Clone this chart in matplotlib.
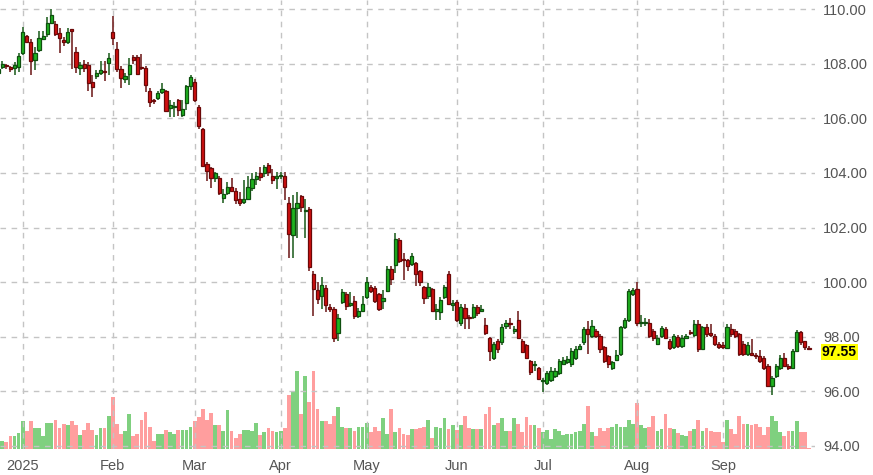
import matplotlib
matplotlib.use("Agg")
import matplotlib.pyplot as plt
import numpy as np
import pandas as pd

# ---------------- data ----------------
opens = [107.65,107.88,107.95,107.88,107.83,107.87,108.39,109.00,108.80,108.13,
         108.50,108.90,109.08,109.50,109.45,109.12,108.86,108.80,109.25,108.42,
         107.83,108.00,107.94,107.32,107.55,107.66,107.72,108.02,109.15,108.53,
         107.80,107.43,107.61,108.24,108.24,107.88,107.83,107.00,106.68,106.73,
         106.95,107.00,106.37,106.43,106.66,106.12,106.55,107.17,107.32,106.40,
         105.60,104.31,104.17,103.83,103.83,103.07,103.28,103.47,103.32,103.06,
         102.92,103.06,103.43,103.76,103.98,103.98,104.28,103.87,103.80,103.88,
         103.90,102.88,101.74,102.73,103.14,102.60,102.66,100.30,99.70,99.50,
         99.80,99.10,99.03,98.15,99.26,99.57,99.18,99.32,98.77,98.93,
         99.45,99.81,99.79,99.57,99.30,99.69,100.48,100.61,101.55,100.83,
         100.81,100.67,100.69,100.40,99.81,99.50,99.75,98.96,98.89,99.47,
         100.28,99.18,99.26,98.52,99.05,98.72,98.71,99.10,98.96,98.44,
         97.97,97.22,97.85,97.79,98.40,98.50,98.22,98.61,97.83,97.70,
         97.12,96.98,96.85,96.38,96.32,96.41,96.57,96.69,97.00,97.06,
         97.00,97.24,97.55,97.79,98.28,98.04,98.22,98.04,97.61,97.30,
         96.87,97.14,97.37,98.34,98.61,99.57,99.75,98.50,98.50,98.52,
         98.22,97.75,98.04,98.28,97.85,97.61,98.00,97.67,97.97,98.18,
         98.07,98.47,97.55,98.37,98.12,98.04,97.75,97.71,97.59,98.28,
         98.22,98.10,97.75,97.37,97.40,97.32,97.30,97.22,96.94,96.20,
         96.57,96.87,97.22,96.94,96.87,97.49,98.16,97.83,97.60]
highs = [107.90,108.08,108.00,107.92,108.05,108.40,109.34,109.05,108.90,108.60,
         109.20,109.20,109.70,110.00,109.55,109.30,108.98,109.30,109.28,108.60,
         108.05,108.15,108.05,107.60,107.75,108.10,108.10,108.40,109.75,108.80,
         107.90,107.65,108.20,108.30,108.32,108.35,107.90,107.10,106.72,107.00,
         107.28,107.05,106.66,106.60,106.72,106.66,107.20,107.60,107.45,106.50,
         105.65,104.40,104.20,104.05,103.90,103.40,103.65,103.80,103.45,103.30,
         103.75,103.90,104.00,104.05,104.20,104.30,104.35,104.15,104.05,104.05,
         104.05,103.10,103.20,103.30,103.20,103.05,102.75,100.40,100.00,100.20,
         99.90,99.20,99.10,98.83,99.75,99.65,99.63,99.50,99.05,99.50,
         100.18,99.90,99.85,99.62,99.70,100.60,100.60,101.80,101.60,101.05,
         100.85,101.05,100.75,100.45,99.85,99.98,99.80,99.20,99.45,99.90,
         100.40,99.35,99.35,99.20,99.20,98.80,99.20,99.15,99.15,98.70,
         98.00,97.80,97.90,98.45,98.60,98.70,98.40,98.96,97.90,97.75,
         97.15,97.10,96.90,96.50,96.75,96.90,96.85,97.20,97.25,97.30,
         97.60,97.65,97.75,98.35,98.59,98.60,98.30,98.10,97.65,97.35,
         97.10,97.50,98.40,98.70,99.75,99.80,100.00,98.80,98.70,98.65,
         98.30,98.05,98.40,98.35,97.90,98.10,98.05,98.05,98.10,98.25,
         98.60,98.60,98.40,98.45,98.47,98.10,97.80,97.80,98.45,98.45,
         98.30,98.15,97.85,97.80,97.90,97.40,97.50,97.30,97.00,96.55,
         97.00,97.35,97.40,97.00,97.55,98.25,98.20,97.85,97.65]
lows = [107.55,107.80,107.80,107.68,107.58,107.70,108.30,108.75,107.60,107.75,
        108.42,108.85,108.98,109.45,109.00,108.40,108.65,108.72,107.80,107.65,
        107.60,107.70,107.00,106.78,107.45,107.60,107.35,107.60,108.70,107.70,
        107.10,107.30,107.20,108.00,107.58,107.75,106.95,106.43,106.52,106.68,
        106.90,106.22,106.05,106.05,106.10,106.05,106.30,107.05,106.60,105.60,
        104.20,103.72,103.45,103.68,103.20,102.88,103.20,103.30,102.85,102.80,
        102.85,103.00,103.35,103.55,103.70,103.85,103.90,103.60,103.40,103.78,
        103.00,100.90,100.90,101.60,102.55,101.60,100.40,98.77,99.20,99.00,
        98.90,98.90,97.80,97.85,99.20,98.98,99.10,98.65,98.70,98.90,
        99.38,99.60,99.25,98.95,99.00,99.65,99.90,100.35,100.70,100.06,
        100.42,100.60,99.87,99.87,99.20,99.40,98.90,98.60,98.60,99.40,
        99.15,98.95,98.55,98.40,98.28,98.30,98.65,98.75,98.90,98.05,
        97.12,97.15,97.40,97.70,98.30,98.30,98.10,97.90,97.40,97.20,
        96.60,96.75,96.40,95.98,96.25,96.35,96.50,96.60,96.95,97.00,
        96.90,97.15,97.50,97.70,97.37,97.95,97.95,97.40,97.05,96.85,
        96.80,97.10,97.30,98.30,98.55,99.50,98.40,98.35,98.40,97.95,
        97.85,97.70,97.95,97.90,97.50,97.55,97.60,97.60,97.90,98.05,
        98.00,97.45,97.50,98.00,98.00,97.65,97.55,97.55,97.55,98.00,
        97.95,97.30,97.30,97.30,97.30,97.20,97.05,96.80,96.15,95.85,
        96.50,96.80,96.90,96.80,96.85,97.45,97.70,97.50,97.50]
closes = [107.80,108.00,107.90,107.80,107.94,108.27,109.15,108.80,108.10,108.40,
          108.94,109.00,109.48,109.78,109.10,108.94,108.80,109.15,109.20,107.88,
          107.95,107.85,107.30,107.14,107.65,107.76,107.68,108.20,108.95,107.80,
          107.48,107.55,107.94,108.14,107.62,107.84,107.22,106.60,106.64,106.92,
          107.06,106.27,106.48,106.46,106.30,106.33,107.17,107.50,106.67,105.72,
          104.25,104.07,103.80,103.98,103.26,103.24,103.50,103.33,103.00,102.88,
          103.05,103.47,103.76,103.90,103.84,104.20,104.03,103.73,103.90,103.93,
          103.50,101.78,102.73,102.88,102.74,102.65,100.57,99.75,99.40,99.90,
          99.15,99.02,97.97,98.70,99.63,99.14,99.22,98.77,98.95,99.20,
          100.00,99.66,99.32,99.02,99.42,100.48,100.12,101.58,100.79,100.80,
          100.60,100.97,100.30,100.00,99.42,99.81,98.96,99.00,99.35,99.81,
          99.20,99.22,98.60,99.10,98.69,98.68,99.10,98.86,99.00,98.12,
          97.46,97.73,97.55,98.37,98.50,98.45,98.27,97.97,97.45,97.24,
          96.72,97.00,96.47,96.42,96.69,96.75,96.75,97.12,97.14,97.18,
          97.49,97.55,97.67,98.28,98.10,98.40,98.04,97.55,97.12,97.00,
          97.06,97.34,98.34,98.61,99.69,99.71,98.52,98.55,98.55,98.04,
          97.97,97.97,98.32,97.97,97.59,98.04,97.67,97.97,98.02,98.14,
          98.47,97.55,98.34,98.10,98.08,97.75,97.63,97.61,98.34,98.10,
          98.04,97.37,97.37,97.71,97.35,97.28,97.12,96.87,96.20,96.48,
          96.94,97.22,96.94,96.87,97.49,98.16,97.79,97.61,97.55]
# volume in thousand contracts
volumes = [15.7,8.3,7.3,12.7,12.7,15.7,27.7,18.3,27.7,21,
           21,12.7,26.3,26.3,29,21,25,23.7,27.7,23.7,
           14,19.3,26.3,19.3,14,21,21,33.3,52.3,25,
           15.3,18.3,34.7,12.7,15.3,29,37.3,22.3,8.3,15.3,
           15.3,19.3,16.7,15.3,19.3,19.3,19.3,22.3,27.7,32,
           40,29,36,23.7,23.7,18,38.7,18,11.3,15.3,
           19.3,19.3,18,26.3,14,16.7,21,18,16.7,18,
           21,54,57.7,78,35,73.3,46.7,78.3,40,28.3,
           27.7,25,33.3,41.7,22.3,21,21,18.3,22.3,22.3,
           26.3,16.7,22.3,18.3,30.7,15.3,40,16.7,21,15.3,
           14,19.7,19.7,21,22.3,29,11.3,22.3,21,30.7,
           19.7,23.7,19.3,23.7,33.3,21,19.7,19.7,19.7,34.7,
           41.7,23.7,26.3,30.7,18.3,18,30.7,25,16.7,32,
           23.7,23.7,21,16.7,19.3,10,19.7,18.3,14,15.3,
           15.3,16.7,18,25,43,16.7,12.7,21,18.3,21,
           22.3,25,22.3,22.3,29,25,45.7,23.7,21,22.3,
           33.3,18.3,19.7,34.7,21,19.7,15.7,14,12.7,18.3,
           19.7,29,18.3,21,18.3,16.7,16.7,7.3,29,19.7,
           15.3,33.3,25,25,23.7,25,22.3,14,22.3,33.3,
           27.7,16.7,12.7,18.3,18.3,27.7,16.7,16.7,1.0]

holidays = ["2024-12-25", "2025-01-01", "2025-04-18"]
dates = pd.bdate_range("2024-12-23", "2025-09-30")
dates = dates[~dates.isin(pd.to_datetime(holidays))]
last_price = 97.55

n = len(closes)
assert len(opens) == n == len(highs) == len(lows) == len(volumes) == len(dates)

o = np.array(opens); h = np.array(highs); l = np.array(lows); c = np.array(closes)
v = np.array(volumes)
idx = np.arange(n)
up = c >= o

# ---------------- figure ----------------
W, H = 873, 475
fig = plt.figure(figsize=(W / 100, H / 100), dpi=100, facecolor="white")
plt.rcParams["font.family"] = ["Liberation Sans", "DejaVu Sans"]

ax_l, ax_b = 0.0, 26 / H
ax_w, ax_h = 815 / W, 449 / H
ax = fig.add_axes([ax_l, ax_b, ax_w, ax_h])
axv = ax.twinx()
ax.set_zorder(2); axv.set_zorder(1)
ax.patch.set_visible(False)

# volume
vcol = np.where(up, "#7fd07f", "#ff9e9e")
axv.bar(idx, v, width=0.92, color=vcol, linewidth=0)
axv.set_ylim(0, 449)
axv.set_yticks([])
for s in axv.spines.values():
    s.set_visible(False)

# candles
wick_col = np.where(up, "#2a662a", "#762626")
body_col = np.where(up, "#1fb31f", "#d01010")
edge_col = np.where(up, "#0f4f0f", "#6a0808")
ax.vlines(idx, l, h, colors=wick_col, linewidth=1.2, zorder=3)
bottoms = np.minimum(o, c)
heights = np.maximum(np.abs(c - o), 0.035)
ax.bar(idx, heights, bottom=bottoms, width=0.78, color=body_col,
       edgecolor=edge_col, linewidth=0.9, zorder=4)

# axes setup
ax.set_xlim(0.457, 199.48)
ax.set_ylim(93.89, 110.33)
yt = np.arange(94, 110.01, 2)
ax.set_yticks(yt)
ax.set_yticklabels([f"{t:.2f}" for t in yt])
ax.yaxis.tick_right()
ax.tick_params(axis="y", length=0, pad=6, labelsize=10.5, labelcolor="#555555")

month_pos = []
month_lab = []
for m in range(1, 10):
    sel = np.where((dates.year == 2025) & (dates.month == m))[0]
    month_pos.append(sel[0])
    month_lab.append("2025" if m == 1 else dates[sel[0]].strftime("%b"))
ax.set_xticks(month_pos)
ax.set_xticklabels(month_lab)
ax.tick_params(axis="x", length=0, pad=7, labelsize=10.5, labelcolor="#555555")

for s in ax.spines.values():
    s.set_visible(False)

ax.grid(True, which="major", axis="both", color="#c4c4c4", linestyle=(0, (4, 4)),
        linewidth=1.0, zorder=0)
ax.set_axisbelow(True)

# last price marker
ax.annotate(f"{last_price:.2f}", xy=(1.0, last_price), xycoords=("axes fraction", "data"),
            xytext=(5, -2.2), textcoords="offset points", ha="left", va="center",
            fontsize=10, fontweight="bold", color="black",
            bbox=dict(boxstyle="square,pad=0.05", facecolor="#ffff00", edgecolor="none"),
            annotation_clip=False, zorder=10)

fig.savefig("out.png", dpi=100, facecolor="white")
